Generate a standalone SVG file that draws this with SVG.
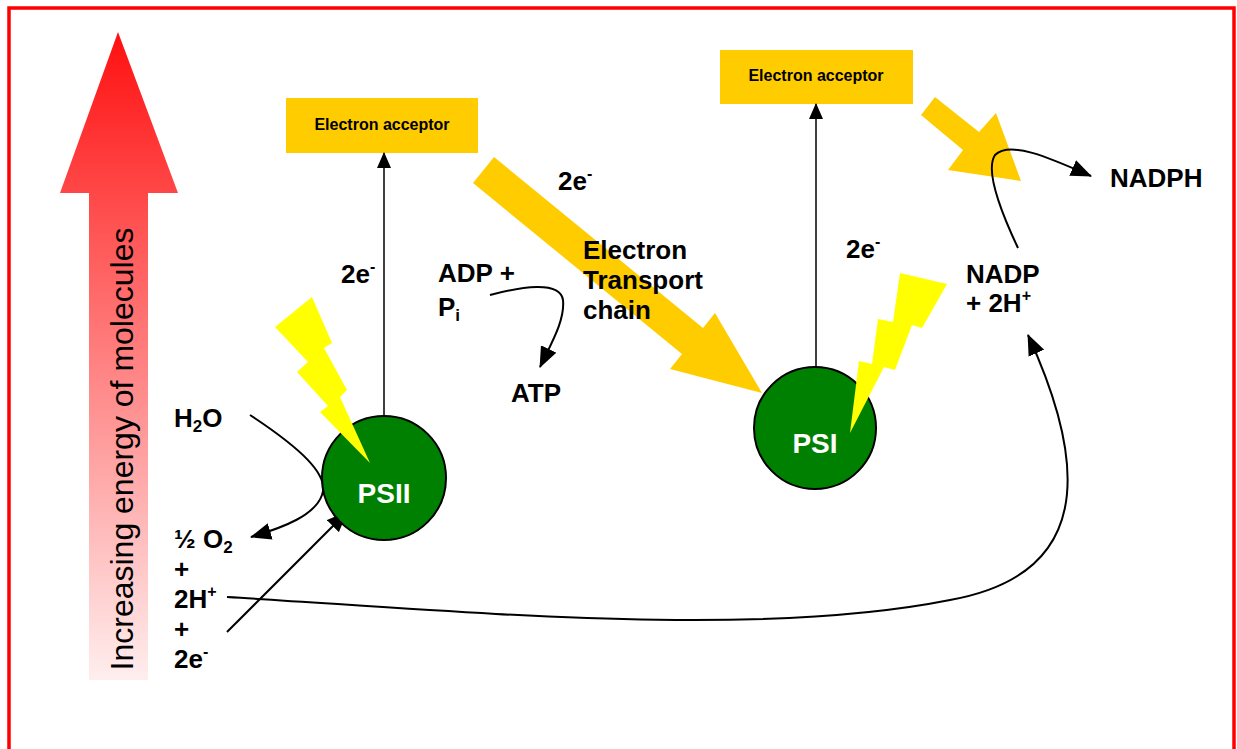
<svg xmlns="http://www.w3.org/2000/svg" width="1237" height="749" viewBox="0 0 1237 749">
<style>
.t{font-family:"Liberation Sans",Arial,sans-serif;font-weight:bold;font-size:26px;fill:#000}
.box{fill:#ffcc00}
.bt{font-family:"Liberation Sans",Arial,sans-serif;font-weight:bold;font-size:16px;fill:#000;text-anchor:middle}
.ps{fill:#008000;stroke:#000;stroke-width:2}
.pst{font-family:"Liberation Sans",Arial,sans-serif;font-weight:bold;font-size:28px;fill:#fff;text-anchor:middle}
.bolt{fill:#ffff00}
.big{fill:#ffcc00}
.c{fill:none;stroke:#000;stroke-width:2}
.v{fill:none;stroke:#000;stroke-width:1.5}
</style>
<defs>
<linearGradient id="redgrad" x1="0" y1="32" x2="0" y2="680" gradientUnits="userSpaceOnUse">
<stop offset="0" stop-color="#ff1010"/>
<stop offset="1" stop-color="#ffeeee"/>
</linearGradient>
<marker id="ah" viewBox="0 0 16 14" refX="15" refY="7" markerWidth="16" markerHeight="14" markerUnits="userSpaceOnUse" orient="auto">
<path d="M0,0 L16,7 L0,14 z" fill="#000"/>
</marker>
<marker id="ahc" viewBox="0 0 21 17" refX="20" refY="8.5" markerWidth="21" markerHeight="17" markerUnits="userSpaceOnUse" orient="auto">
<path d="M0,0 L21,8.5 L0,17 z" fill="#000"/>
</marker>
</defs>
<rect width="1237" height="749" fill="#fff"/>
<rect id="border" x="9" y="8" width="1225" height="760" fill="none" stroke="#ff0000" stroke-width="3.5"/>

<g id="energy-arrow">
<polygon points="118,32 178,193 148,193 148,680 89,680 89,193 60,193" fill="url(#redgrad)"/>
<text transform="translate(133,449) rotate(-90)" text-anchor="middle" style="font-family:'Liberation Sans',Arial,sans-serif;font-size:32px;fill:#000">Increasing energy of molecules</text>
</g>

<g id="etc-arrow">
<polygon class="big" points="494,157 703,328 715,313 762,393 670,369 682,354 473,183"/>
</g>
<g id="nadph-arrow">
<polygon class="big" points="935,97 979,132 996,113 1021,181 948,170 963,150 921,115"/>
</g>

<g id="acceptor1">
<rect class="box" x="286" y="98" width="192" height="55"/>
<text class="bt" x="382" y="130">Electron acceptor</text>
</g>
<g id="acceptor2">
<rect class="box" x="720" y="50" width="193" height="54"/>
<text class="bt" x="816" y="81">Electron acceptor</text>
</g>

<g id="connectors">
<line class="v" x1="384" y1="415" x2="384" y2="153" marker-end="url(#ah)"/>
<line class="v" x1="816" y1="368" x2="816" y2="104" marker-end="url(#ah)"/>
<path class="c" d="M490,295 C520,287 560,280 563,300 C565,320 552,342 540,367" marker-end="url(#ahc)"/>
<path class="c" d="M250,415 C300,448 330,475 322,495 C315,515 285,527 251,537" marker-end="url(#ahc)"/>
<path class="c" d="M227,632 L347,512" marker-end="url(#ahc)"/>
<path class="c" d="M227,597 C450,610 750,640 950,600 C1090,575 1090,470 1028,335" marker-end="url(#ahc)"/>
<path class="c" d="M1018,248 C1000,210 985,170 995,155 C1010,140 1050,158 1091,176" marker-end="url(#ahc)"/>
</g>

<g id="psii">
<circle class="ps" cx="384" cy="478" r="62"/>
<text class="pst" x="384" y="503">PSII</text>
</g>
<g id="psi">
<circle class="ps" cx="815" cy="428" r="61"/>
<text class="pst" x="815" y="453">PSI</text>
</g>

<g id="bolt-psii">
<polygon class="bolt" points="275,327 312,297 332,343 324,348 347,390 340,397 370,463 320,412 328,406 297,372 308,362"/>
</g>
<g id="bolt-psi">
<polygon class="bolt" points="900,273 947,284 922,328 912,325 895,370 884,367 850,433 859,361 872,364 878,319 893,322"/>
</g>

<g id="labels">
<text class="t" x="341" y="283">2e<tspan font-size="16" dy="-11">-</tspan></text>
<text class="t" x="558" y="190">2e<tspan font-size="16" dy="-11">-</tspan></text>
<text class="t" x="846" y="258">2e<tspan font-size="16" dy="-11">-</tspan></text>
<text class="t" x="438" y="282">ADP +</text>
<text class="t" x="438" y="316">P<tspan font-size="17" dy="5">i</tspan></text>
<text class="t" x="511" y="402">ATP</text>
<text class="t" x="583" y="259">Electron</text>
<text class="t" x="583" y="289">Transport</text>
<text class="t" x="583" y="319">chain</text>
<text class="t" x="1110" y="187">NADPH</text>
<text class="t" x="966" y="283">NADP</text>
<text class="t" x="966" y="312">+ 2H<tspan font-size="16" dy="-11">+</tspan></text>
<text class="t" x="174" y="427">H<tspan font-size="17" dy="5">2</tspan><tspan dy="-5">O</tspan></text>
<text class="t" x="174" y="548">½ O<tspan font-size="17" dy="5">2</tspan></text>
<text class="t" x="174" y="578">+</text>
<text class="t" x="174" y="608">2H<tspan font-size="16" dy="-11">+</tspan></text>
<text class="t" x="174" y="638">+</text>
<text class="t" x="174" y="668">2e<tspan font-size="16" dy="-11">-</tspan></text>
</g>
</svg>
